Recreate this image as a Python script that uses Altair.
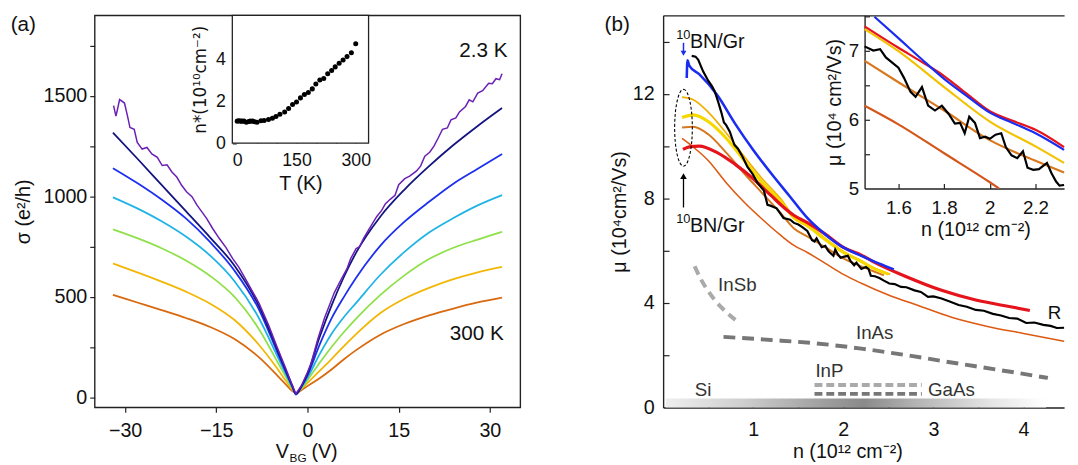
import altair as alt
import pandas as pd

FONT = "Liberation Sans"
H = 398
WA = 432
WB = 407
IA_L, IA_R, IA_B = 139.7, 278.0, 129.7
IB_L, IB_B = 204.5, 175.7

# ---------------- panel (a): sigma vs V_BG ----------------
VL = [-32, -28, -24, -20, -16, -12, -8, -5, -3.5, -2.5, -1.9]
VR = [-1.0, 0, 2, 4, 6, 8, 12, 16, 20, 24, 28, 32]
NAVY = [1317, 1188, 1057, 926, 795, 655, 455, 240, 130, 58, 18] + [55, 118, 300, 460, 600, 720, 900, 1035, 1150, 1255, 1350, 1439]
BLUE = [1140, 1066, 984, 890, 772, 630, 438, 228, 122, 54, 14] + [54, 110, 262, 395, 500, 595, 755, 875, 973, 1063, 1137, 1210]
CYAN = [995, 940, 876, 800, 705, 578, 395, 208, 112, 50, 16] + [50, 98, 215, 318, 400, 470, 610, 725, 820, 892, 955, 1006]
GREEN = [836, 792, 742, 681, 604, 500, 340, 180, 98, 45, 18] + [46, 86, 172, 252, 325, 392, 510, 608, 688, 744, 785, 823]
GOLD = [666, 622, 576, 526, 466, 385, 262, 145, 80, 38, 20] + [42, 72, 132, 192, 255, 315, 420, 492, 545, 588, 622, 649]
ORANGE = [510, 472, 434, 395, 350, 290, 200, 110, 62, 32, 22] + [36, 56, 95, 140, 190, 235, 312, 366, 408, 442, 472, 496]

PV = [-31.9, -31.5, -30.9, -30.1, -29.6, -29.2, -28.5, -28.0, -27.2, -26.4,
      -25.6, -24.7, -23.9, -23.1, -22.3, -21.5, -20.7, -19.9, -19.0, -18.2,
      -17.4, -16.6, -15.6, -14.5, -13.4, -12.3, -11.3, -10.2, -9.1, -8.0,
      -6.4, -5.0, -3.5, -2.5, -1.9, -1.0, 0.0, 0.6, 1.7, 2.8,
      4.4, 5.5, 6.5, 7.1, 8.0, 8.6, 9.2, 10.0, 10.6, 11.4,
      12.2, 12.8, 13.6, 14.4, 15.0, 16.0, 16.8, 17.9, 18.6, 19.3,
      20.1, 20.8, 21.5, 22.2, 23.0, 23.6, 24.4, 25.0, 26.0, 26.6,
      27.2, 28.0, 28.8, 29.8, 30.4, 31.0, 31.6, 32.0]
PS = [1451, 1399, 1481, 1464, 1399, 1342, 1333, 1268, 1235, 1243,
      1211, 1194, 1153, 1157, 1121, 1096, 1055, 1023, 998, 957,
      924, 890, 840, 790, 745, 690, 648, 590, 530, 470,
      360, 250, 138, 60, 18, 58, 125, 170, 290, 395,
      520, 585, 640, 690, 740, 750, 790, 830, 860, 900,
      930, 962, 985, 1005, 1058, 1088, 1100, 1125, 1150, 1200,
      1219, 1250, 1290, 1333, 1340, 1380, 1390, 1420, 1447, 1480,
      1470, 1513, 1525, 1562, 1560, 1585, 1580, 1610]

A_SERIES = [("300 K", "#d9690f", ORANGE), ("gold", "#f2b705", GOLD), ("green", "#8fe04a", GREEN),
            ("cyan", "#20b4e6", CYAN), ("blue", "#1c2ff0", BLUE), ("navy", "#141480", NAVY)]

# inset (a): n* vs T
IT = [0, 4, 8, 12, 17, 23, 29, 33, 39, 44, 50, 60, 68, 79, 89, 98, 108, 120, 130, 140,
      150, 160, 170, 180, 190, 199, 209, 219, 229, 239, 248, 258, 268, 278, 289, 300]
IN = [1.05, 1.07, 1.05, 1.05, 1.05, 1.0, 1.03, 1.05, 1.05, 1.02, 1.0, 1.07, 1.08, 1.13, 1.19, 1.27, 1.38, 1.49, 1.65, 1.84,
      1.96, 2.16, 2.32, 2.42, 2.59, 2.82, 3.01, 3.09, 3.31, 3.47, 3.64, 3.81, 3.97, 4.13, 4.31, 4.74]

# ---------------- panel (b): mobility vs n ----------------
BLUE_N = [0.262, 0.27, 0.29, 0.4, 0.6, 0.8, 1.0, 1.2, 1.4, 1.6, 1.8, 2.0, 2.2, 2.4, 2.56]
BLUE_M = [12.6, 13.28, 13.08, 12.75, 11.95, 10.85, 9.85, 8.95, 8.1, 7.25, 6.62, 6.12, 5.80, 5.5, 5.28]
RED_N = [0.22, 0.3, 0.4, 0.6, 0.8, 1.0, 1.2, 1.34, 1.45, 1.6, 1.8, 2.0, 2.2, 2.32, 2.7, 3.09, 3.47, 3.84, 4.07]
RED_M = [9.87, 9.98, 10.0, 9.75, 9.3, 8.75, 8.1, 7.65, 7.35, 7.07, 6.63, 6.12, 5.83, 5.6, 5.0, 4.48, 4.11, 3.86, 3.71]
GOLD_N = [0.21, 0.335, 0.5, 0.7, 0.9, 1.1, 1.3, 1.452, 1.6, 1.8, 2.0, 2.2, 2.32, 2.52]
GOLD_M = [11.87, 11.77, 11.3, 10.5, 9.6, 8.75, 8.0, 7.31, 6.99, 6.47, 5.97, 5.61, 5.37, 5.09]
YEL_N = [0.21, 0.335, 0.5, 0.7, 0.9, 1.1, 1.3, 1.452, 1.6, 1.8, 2.0, 2.2, 2.32, 2.5]
YEL_M = [11.09, 11.19, 10.94, 10.3, 9.45, 8.6, 7.9, 7.25, 6.95, 6.42, 5.93, 5.58, 5.35, 5.1]
ORG_N = [0.21, 0.335, 0.5, 0.7, 0.9, 1.1, 1.3, 1.452, 1.6, 1.8, 2.0, 2.2, 2.32, 2.45]
ORG_M = [10.71, 10.74, 10.45, 9.75, 8.95, 8.2, 7.45, 6.85, 6.54, 6.13, 5.70, 5.40, 5.23, 5.05]
DORG_N = [0.21, 0.335, 0.5, 0.7, 0.9, 1.1, 1.3, 1.452, 1.6, 1.8, 2.0, 2.2, 2.5, 2.83, 3.2, 3.6, 4.0, 4.45]
DORG_M = [10.29, 9.96, 9.45, 8.6, 7.85, 7.2, 6.6, 6.2, 5.93, 5.51, 5.09, 4.75, 4.3, 3.9, 3.45, 3.1, 2.83, 2.53]
BLACK_N = [0.317, 0.36, 0.39, 0.42, 0.445, 0.5, 0.54, 0.572, 0.61, 0.645,
           0.675, 0.70, 0.74, 0.79, 0.83, 0.88, 0.936, 0.99, 1.046, 1.118,
           1.158, 1.19, 1.26, 1.336, 1.41, 1.452, 1.5, 1.545, 1.6, 1.653,
           1.68, 1.703, 1.73, 1.76, 1.80, 1.83, 1.847, 1.89, 1.91, 1.94,
           1.97, 2.0, 2.05, 2.08, 2.12, 2.145, 2.2, 2.25, 2.28, 2.305,
           2.35, 2.4, 2.45, 2.51, 2.57, 2.64, 2.7, 2.79, 2.86, 2.94,
           3.0, 3.09, 3.18, 3.28, 3.37, 3.47, 3.56, 3.66, 3.75, 3.84,
           3.93, 4.03, 4.12, 4.22, 4.3, 4.37, 4.45]
BLACK_M = [13.45, 13.42, 13.3, 13.05, 12.85, 12.5, 12.3, 12.1, 11.7, 11.3,
           10.9, 10.8, 10.55, 10.05, 9.9, 9.6, 9.2, 8.95, 8.6, 8.3,
           7.75, 7.72, 7.62, 7.25, 7.18, 7.06, 7.0, 6.9, 6.75, 6.40,
           6.35, 6.47, 6.3, 6.13, 6.18, 6.0, 5.94, 5.8, 6.04, 5.85,
           5.73, 5.76, 5.8, 5.6, 5.44, 5.54, 5.3, 5.37, 5.3, 5.04,
           5.02, 4.95, 4.85, 4.74, 4.72, 4.61, 4.6, 4.48, 4.42, 4.23,
           4.25, 4.17, 4.05, 3.92, 3.85, 3.73, 3.7, 3.58, 3.52, 3.42,
           3.4, 3.23, 3.25, 3.16, 3.12, 3.04, 3.05]
INSB_N = [0.35, 0.42, 0.5, 0.6, 0.7, 0.82]
INSB_M = [5.4, 4.9, 4.45, 4.0, 3.65, 3.3]
INAS_N = [0.67, 1.2, 1.7, 2.2, 2.7, 3.2, 3.7, 4.27]
INAS_M = [2.7, 2.58, 2.45, 2.25, 2.0, 1.72, 1.45, 1.13]
INP_N = [1.68, 2.87]
INP_M = [0.86, 0.86]
GAAS_N = [1.68, 2.87]
GAAS_M = [0.52, 0.52]

# inset (b)
IBB_N = [1.495, 1.6, 1.7, 1.8, 1.9, 2.0, 2.1, 2.2, 2.325]
IBB_M = [7.49, 7.18, 6.88, 6.59, 6.34, 6.10, 5.95, 5.80, 5.56]
IBR_N = [1.452, 1.6, 1.7, 1.8, 1.9, 2.0, 2.1, 2.2, 2.325]
IBR_M = [7.35, 7.04, 6.84, 6.63, 6.37, 6.12, 5.98, 5.85, 5.6]
IBY_N = [1.452, 1.6, 1.8, 2.0, 2.2, 2.325]
IBY_M = [7.31, 6.99, 6.47, 5.97, 5.61, 5.37]
IBO_N = [1.452, 1.6, 1.8, 2.0, 2.2, 2.325]
IBO_M = [6.85, 6.54, 6.13, 5.70, 5.40, 5.23]
IBD_N = [1.452, 1.6, 1.8, 2.0, 2.04]
IBD_M = [6.2, 5.93, 5.51, 5.09, 5.0]
IBK_N = [1.452, 1.49, 1.52, 1.545, 1.6, 1.625, 1.653, 1.675, 1.703, 1.73,
         1.76, 1.79, 1.82, 1.847, 1.87, 1.89, 1.91, 1.935, 1.957, 1.98,
         2.0, 2.025, 2.05, 2.07, 2.095, 2.12, 2.145, 2.165, 2.19, 2.215,
         2.25, 2.27, 2.29, 2.305, 2.325]
IBK_M = [7.06, 7.0, 7.02, 6.9, 6.75, 6.6, 6.40, 6.33, 6.47, 6.2,
         6.13, 6.2, 6.08, 5.94, 5.95, 5.8, 6.04, 5.95, 5.73, 5.75,
         5.72, 5.78, 5.8, 5.6, 5.48, 5.44, 5.54, 5.3, 5.27, 5.28,
         5.37, 5.22, 5.1, 5.04, 5.05]

ELLIPSE = ("M 0 -1 C 0.127 -1 0.23 -0.552 0.23 0 C 0.23 0.552 0.127 1 0 1 "
           "C -0.127 1 -0.23 0.552 -0.23 0 C -0.23 -0.552 -0.127 -1 0 -1 Z")

# ================= panel (a) =================
xa = alt.X("V:Q", scale=alt.Scale(domain=[-35, 35], nice=False, zero=False),
           axis=alt.Axis(orient="bottom", values=[-30, -15, 0, 15, 30], title="", tickSize=5,
                         labelPadding=8, domain=False))
ya = alt.Y("s:Q", scale=alt.Scale(domain=[-50, 1900], nice=False, zero=False),
           axis=alt.Axis(orient="left", values=list(range(0, 1751, 250)), format="d",
                         labelExpr="datum.value % 500 == 0 ? datum.label : ''",
                         tickSize=5, labelPadding=3, title="σ (e²/h)", titlePadding=10, domain=False))

a_layers = []
for name, col, vals in A_SERIES:
    df = pd.DataFrame({"V": VL + VR, "s": vals})
    a_layers.append(alt.Chart(df).mark_line(color=col, strokeWidth=1.8, interpolate="monotone")
                    .encode(x=xa, y=ya))
a_layers.append(alt.Chart(pd.DataFrame({"V": PV, "s": PS})).mark_line(color="#6a1fb5", strokeWidth=1.5)
                .encode(x=xa, y=ya))
a_txt = pd.DataFrame({"V": [32.9, 32.3], "s": [1720, 316], "t": ["2.3 K", "300 K"]})
a_layers.append(alt.Chart(a_txt).mark_text(align="right", baseline="middle", fontSize=21, color="#111")
                .encode(x=xa, y=ya, text="t:N"))
a_layers.append(alt.Chart(pd.DataFrame({"t": ["(a)"]})).mark_text(align="left", baseline="middle", fontSize=21, color="#111")
                .encode(x=alt.value(-85.3), y=alt.value(10), text="t:N"))
a_layers.append(alt.Chart(pd.DataFrame({"t": ["V"]})).mark_text(align="left", baseline="alphabetic", fontSize=20, color="#111")
                .encode(x=alt.value(183.7), y=alt.value(449), text="t:N"))
a_layers.append(alt.Chart(pd.DataFrame({"t": ["BG"]})).mark_text(align="left", baseline="alphabetic", fontSize=12, color="#111")
                .encode(x=alt.value(197.8), y=alt.value(453), text="t:N"))
a_layers.append(alt.Chart(pd.DataFrame({"t": ["(V)"]})).mark_text(align="left", baseline="alphabetic", fontSize=20, color="#111")
                .encode(x=alt.value(220), y=alt.value(449), text="t:N"))
main_a = alt.layer(*a_layers)

ia_xscale = alt.Scale(domain=[-12.5, 332.5], range=[IA_L, IA_R], nice=False, zero=False)
ia_yscale = alt.Scale(domain=[0, 6.1], range=[IA_B, 0], nice=False, zero=False)
xia = alt.X("T:Q", scale=ia_xscale,
            axis=alt.Axis(orient="bottom", offset=-(H - IA_B), values=[0, 150, 300], ticks=False, tickSize=0,
                          labelPadding=9, domain=False, title="T (K)", titlePadding=4,
                          labelFontSize=18, titleFontSize=20))
yia = alt.Y("n:Q", scale=ia_yscale,
            axis=alt.Axis(orient="left", offset=-IA_L, values=[0, 2, 4], ticks=False, tickSize=0,
                          labelPadding=7, domain=False, title="n*(10¹⁰cm⁻²)", titlePadding=6,
                          titleFont="DejaVu Sans", labelFontSize=18, titleFontSize=17))
ia_frame = alt.Chart(pd.DataFrame({"T": [-12.5], "T2": [332.5], "n": [0.0], "n2": [6.1]})).mark_rect(
    fill="white", stroke="#222", strokeWidth=1.3).encode(x=xia, x2="T2:Q", y=yia, y2="n2:Q")
ia_pts = alt.Chart(pd.DataFrame({"T": IT, "n": IN})).mark_circle(size=26, color="black", opacity=1).encode(x=xia, y=yia)
inset_a = alt.layer(ia_frame, ia_pts)

helper_ia = alt.Chart(pd.DataFrame({"T": [0], "n": [0]})).mark_point(opacity=0).encode(
    x=alt.X("T:Q", scale=ia_xscale, axis=alt.Axis(orient="top", offset=-IA_B, values=list(range(0, 301, 50)),
                                                   labels=False, domain=False, tickSize=4, title="")),
    y=alt.Y("n:Q", scale=ia_yscale, axis=alt.Axis(orient="right", offset=-(WA - IA_L), values=[0, 1, 2, 3, 4, 5],
                                                   labels=False, domain=False, tickSize=4, title="")))

panel_a = alt.layer(main_a, inset_a, helper_ia).resolve_scale(x="independent", y="independent").properties(
    width=WA, height=H)

# ================= panel (b) =================
xb_scale = alt.Scale(domain=[0, 4.45], nice=False, zero=False)
yb_scale = alt.Scale(domain=[0, 15], nice=False, zero=False)
xb = alt.X("n:Q", scale=xb_scale,
           axis=alt.Axis(orient="bottom", values=[1, 2, 3, 4], ticks=False, tickSize=0, labelPadding=12,
                         title="n (10¹² cm⁻²)", titlePadding=3, titleX=187, domain=True))
yb = alt.Y("mu:Q", scale=yb_scale,
           axis=alt.Axis(orient="left", values=[0, 4, 8, 12], ticks=False, tickSize=0, labelPadding=9,
                         title="μ (10⁴cm²/Vs)", titlePadding=3, domain=True))

grad = {"gradient": "linear", "x1": 0, "x2": 1, "y1": 0, "y2": 0,
        "stops": [{"offset": 0, "color": "#eeeeee"}, {"offset": 0.2, "color": "#cfcfcf"},
                  {"offset": 0.42, "color": "#9e9e9e"}, {"offset": 0.52, "color": "#8a8a8a"},
                  {"offset": 0.66, "color": "#b4b4b4"}, {"offset": 0.86, "color": "#e6e6e6"},
                  {"offset": 1, "color": "#ffffff"}]}
b_layers = [alt.Chart(pd.DataFrame({"n": [0.03], "n2": [4.25], "mu": [0.0], "mu2": [0.34]})).mark_rect(fill=grad)
            .encode(x=xb, x2="n2:Q", y=yb, y2="mu2:Q")]


def bline(ns, ms, color, width, dash=None, interp="monotone"):
    kw = dict(color=color, strokeWidth=width, interpolate=interp)
    if dash:
        kw["strokeDash"] = dash
    return alt.Chart(pd.DataFrame({"n": ns, "mu": ms})).mark_line(**kw).encode(x=xb, y=yb)


b_layers += [
    bline(INSB_N, INSB_M, "#aaaaaa", 4, [9, 6]),
    bline(INAS_N, INAS_M, "#777777", 4, [12, 7]),
    bline(INP_N, INP_M, "#aaaaaa", 4, [8, 4], "linear"),
    bline(GAAS_N, GAAS_M, "#777777", 4, [8, 4], "linear"),
    bline(DORG_N, DORG_M, "#dd5a12", 1.6),
    bline(ORG_N, ORG_M, "#d8781e", 2),
    bline(GOLD_N, GOLD_M, "#f0b000", 1.7),
    bline(YEL_N, YEL_M, "#f6d800", 3.2),
    bline(RED_N, RED_M, "#e5141c", 3.2),
    bline(BLUE_N, BLUE_M, "#1a2cf0", 2.6),
    bline(BLACK_N, BLACK_M, "#000000", 2.2, interp="linear"),
]
b_layers.append(alt.Chart(pd.DataFrame({"n": [0.226], "mu": [10.7]})).mark_point(
    shape=ELLIPSE, size=6084, filled=False, color="black", strokeWidth=1.1, strokeDash=[3, 2], opacity=1)
    .encode(x=xb, y=yb))
b_layers.append(alt.Chart(pd.DataFrame({"n": [0.226], "mu": [7.65], "mu2": [8.8]})).mark_rule(
    color="black", strokeWidth=1.3).encode(x=xb, y=yb, y2="mu2:Q"))
b_layers.append(alt.Chart(pd.DataFrame({"n": [0.226], "mu": [8.85]})).mark_point(
    shape="triangle-up", filled=True, size=45, color="black", opacity=1).encode(x=xb, y=yb))
b_layers.append(alt.Chart(pd.DataFrame({"n": [0.226], "mu": [13.95], "mu2": [13.6]})).mark_rule(
    color="#1a2cf0", strokeWidth=1.5).encode(x=xb, y=yb, y2="mu2:Q"))
b_layers.append(alt.Chart(pd.DataFrame({"n": [0.226], "mu": [13.55]})).mark_point(
    shape="triangle-down", filled=True, size=35, color="#1a2cf0", opacity=1).encode(x=xb, y=yb))

# "10BN/Gr" labels: superscript 10 + main text
BN_N = [0.145, 0.145]
BN_M = [13.77, 6.72]
b_layers.append(alt.Chart(pd.DataFrame({"n": BN_N, "mu": BN_M, "t": ["10", "10"]})).mark_text(
    align="left", baseline="alphabetic", fontSize=13, dy=-9, color="#111").encode(x=xb, y=yb, text="t:N"))
b_layers.append(alt.Chart(pd.DataFrame({"n": BN_N, "mu": BN_M, "t": ["BN/Gr", "BN/Gr"]})).mark_text(
    align="left", baseline="alphabetic", fontSize=20, dx=14, color="#111").encode(x=xb, y=yb, text="t:N"))

LBL_T = ["InSb", "InAs", "InP", "Si", "GaAs", "R"]
LBL_N = [0.61, 2.14, 1.69, 0.35, 2.94, 4.27]
LBL_M = [4.45, 2.6, 1.15, 0.45, 0.45, 3.4]
LBL_C = ["#333", "#333", "#333", "#333", "#333", "#111"]
b_layers.append(alt.Chart(pd.DataFrame({"n": LBL_N, "mu": LBL_M, "t": LBL_T, "c": LBL_C})).mark_text(
    align="left", baseline="alphabetic", fontSize=19).encode(
    x=xb, y=yb, text="t:N", color=alt.Color("c:N", scale=None)))
b_layers.append(alt.Chart(pd.DataFrame({"t": ["(b)"]})).mark_text(align="left", baseline="middle", fontSize=21, color="#111")
                .encode(x=alt.value(-59.5), y=alt.value(10), text="t:N"))
main_b = alt.layer(*b_layers)

ib_xscale = alt.Scale(domain=[1.452, 2.325], range=[IB_L, WB], nice=False, zero=False)
ib_yscale = alt.Scale(domain=[5, 7.51], range=[IB_B, 0], nice=False, zero=False)
xib = alt.X("n:Q", scale=ib_xscale,
            axis=alt.Axis(orient="bottom", offset=-(H - IB_B), values=[1.6, 1.8, 2.0, 2.2], format="~g",
                          ticks=False, tickSize=0, labelPadding=10, domain=True, title="n (10¹² cm⁻²)",
                          titleX=317, titlePadding=3, labelFontSize=19, titleFontSize=20))
yib = alt.Y("mu:Q", scale=ib_yscale,
            axis=alt.Axis(orient="left", offset=-IB_L, values=[5, 6, 7], ticks=False, tickSize=0,
                          labelPadding=6, domain=True, title="μ (10⁴ cm²/Vs)", titlePadding=4,
                          labelFontSize=19, titleFontSize=20))


def iline(ns, ms, color, width, interp="monotone"):
    return alt.Chart(pd.DataFrame({"n": ns, "mu": ms})).mark_line(
        color=color, strokeWidth=width, interpolate=interp).encode(x=xib, y=yib)


inset_b = alt.layer(
    iline(IBD_N, IBD_M, "#d4561a", 2.2),
    iline(IBO_N, IBO_M, "#d8781e", 2.2),
    iline(IBY_N, IBY_M, "#f2c200", 2.2),
    iline(IBR_N, IBR_M, "#e5141c", 2.2),
    iline(IBB_N, IBB_M, "#1a2cf0", 2.2),
    iline(IBK_N, IBK_M, "#000000", 2.2, "linear"),
)

helper_b = alt.Chart(pd.DataFrame({"n": [0], "mu": [0]})).mark_point(opacity=0).encode(
    x=alt.X("n:Q", scale=xb_scale, axis=alt.Axis(orient="top", offset=-H, values=[0.5, 1, 1.5, 2, 2.5, 3, 3.5, 4],
                                                  labels=False, domain=False, tickSize=6, title="")),
    y=alt.Y("mu:Q", scale=yb_scale, axis=alt.Axis(orient="right", offset=-WB, values=[2, 4, 6, 8, 10, 12, 14],
                                                   labels=False, domain=False, tickSize=6, title="")))
helper_top = alt.Chart(pd.DataFrame({"n": [0], "mu": [0]})).mark_point(opacity=0).encode(
    x=alt.X("n:Q", scale=xb_scale, axis=alt.Axis(orient="top", offset=0, labels=False, ticks=False, tickSize=0,
                                                  domain=True, title="")),
    y=alt.Y("mu:Q", scale=yb_scale, axis=None))
helper_ib = alt.Chart(pd.DataFrame({"n": [2.0], "mu": [6.0]})).mark_point(opacity=0).encode(
    x=alt.X("n:Q", scale=ib_xscale, axis=alt.Axis(orient="top", offset=-IB_B, values=[1.6, 1.8, 2.0, 2.2],
                                                   labels=False, domain=False, tickSize=5, title="")),
    y=alt.Y("mu:Q", scale=ib_yscale, axis=alt.Axis(orient="right", offset=-(WB - IB_L), values=[5.5, 6, 6.5, 7, 7.5],
                                                    labels=False, domain=False, tickSize=5, title="")))

panel_b = alt.layer(main_b, inset_b, helper_b, helper_top, helper_ib).resolve_scale(
    x="independent", y="independent").properties(width=WB, height=H, view=alt.ViewBackground(stroke="transparent"))

chart = alt.hconcat(panel_a, panel_b, spacing=83).properties(
    padding={"left": 2, "top": 0, "right": 0, "bottom": 0}, background="white"
).configure_view(stroke="#222", strokeWidth=1.4).configure_axis(
    labelFont=FONT, titleFont=FONT, labelFontSize=20, titleFontSize=20, labelColor="#111", titleColor="#111",
    titleFontWeight="normal", domainColor="#222", tickColor="#222", domainWidth=1.4, tickWidth=1.2,
    grid=False, labelFlush=False, labelOverlap=False
).configure_text(font=FONT)

chart.save("out.html", embed_options={"renderer": "svg", "actions": False})
